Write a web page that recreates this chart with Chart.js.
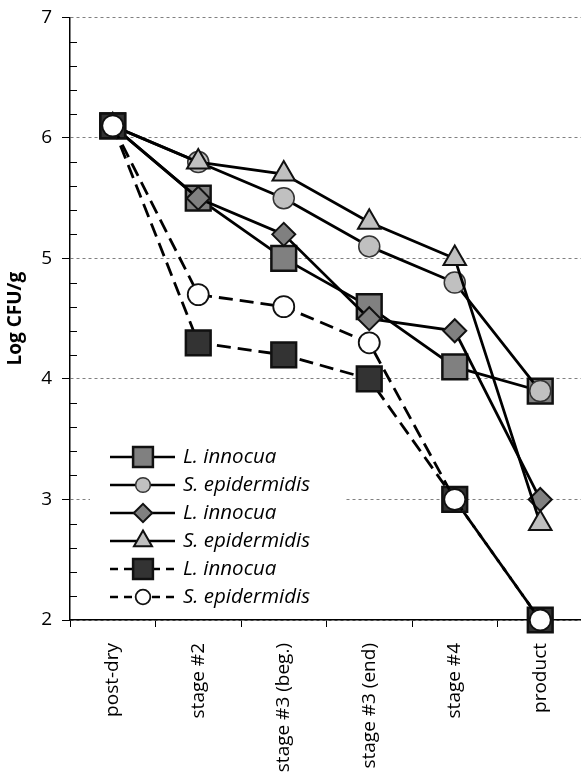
<!DOCTYPE html>
<html>
<head>
<meta charset="utf-8">
<script src="https://cdn.jsdelivr.net/npm/chart.js@4.4.0/dist/chart.umd.min.js"></script>
<style>
    html, body { margin: 0; padding: 0; background: #fff; overflow: hidden; }
    #wrap { width: 603px; height: 782px; margin-top: -4px; }
</style>
</head>
<body>
<div id="wrap"><canvas id="chart" width="603" height="782"></canvas></div>
<script>
// sampling stages along the line
var stages = ['post-dry', 'stage #2', 'stage #3 (beg.)', 'stage #3 (end)', 'stage #4', 'product'];
var seriesNames = ['L. innocua', 'S. epidermidis', 'L. innocua', 'S. epidermidis', 'L. innocua', 'S. epidermidis'];

// log counts per stage
var innocuaRun1 = [6.1, 5.5, 5.0, 4.6, 4.1, 3.9];
var epidermidisRun1 = [6.1, 5.8, 5.5, 5.1, 4.8, 3.9];
var innocuaRun2 = [6.1, 5.5, 5.2, 4.5, 4.4, 3.0];
var epidermidisRun2 = [6.1, 5.8, 5.7, 5.3, 5.0, 2.8];
var innocuaRun3 = [6.1, 4.3, 4.2, 4.0, 3.0, 2.0];
var epidermidisRun3 = [6.1, 4.7, 4.6, 4.3, 3.0, 2.0];

var yMin = 2, yMax = 7, yMinorStep = 0.2;

var FONT = '"Open Sans", "Noto Sans", sans-serif';

function series(i, data, style) {
    return Object.assign({
        label: seriesNames[i],
        data: data,
        borderColor: '#000',
        borderWidth: 2.8,
        pointBorderColor: '#111',
        tension: 0,
        fill: false,
        clip: false,
        order: 6 - i
    }, style);
}

var datasets = [
    series(0, innocuaRun1, { pointStyle: 'rect', pointRadius: 17.5, pointBackgroundColor: '#808080', pointBorderWidth: 2.5 }),
    series(1, epidermidisRun1, { pointStyle: 'circle', pointRadius: 10.5, pointBackgroundColor: '#c0c0c0', pointBorderColor: '#333', pointBorderWidth: 1.5 }),
    series(2, innocuaRun2, { pointStyle: 'rectRot', pointRadius: 11.5, pointBackgroundColor: '#808080', pointBorderWidth: 2 }),
    series(3, epidermidisRun2, { pointStyle: 'triangle', pointRadius: 13, pointBackgroundColor: '#c0c0c0', pointBorderWidth: 2 }),
    series(4, innocuaRun3, { pointStyle: 'rect', pointRadius: 17.5, pointBackgroundColor: '#333333', pointBorderWidth: 2.5, borderDash: [14, 7] }),
    series(5, epidermidisRun3, { pointStyle: 'circle', pointRadius: 10.5, pointBackgroundColor: '#ffffff', pointBorderWidth: 1.8, borderDash: [14, 7] })
];

// small inward ticks on the value axis
var minorTicks = {
    id: 'minorTicks',
    afterDraw: function(chart) {
        var ctx = chart.ctx, y = chart.scales.y, left = chart.chartArea.left;
        ctx.save();
        ctx.strokeStyle = '#000';
        ctx.lineWidth = 1;
        for (var v = yMin + yMinorStep; v < yMax - 0.01; v += yMinorStep) {
            if (Math.abs(v - Math.round(v)) < 0.01) continue;
            var py = Math.round(y.getPixelForValue(v)) + 0.5;
            ctx.beginPath();
            ctx.moveTo(left, py);
            ctx.lineTo(left + 7, py);
            ctx.stroke();
        }
        ctx.restore();
    }
};

// boxed legend inside the plot, lower left
var insideLegend = {
    id: 'insideLegend',
    afterDatasetsDraw: function(chart) {
        var ctx = chart.ctx;
        var x0 = 110, x1 = 175, mx = 143, tx = 183, top = 461, step = 28;
        ctx.save();
        ctx.fillStyle = '#fff';
        ctx.fillRect(90, top - 20, 255, step * 6 + 12);
        chart.data.datasets.forEach(function(ds, i) {
            var yy = top + i * step;
            ctx.strokeStyle = '#000';
            ctx.lineWidth = 2.5;
            ctx.setLineDash(ds.borderDash ? [8, 6] : []);
            ctx.beginPath();
            ctx.moveTo(x0, yy);
            ctx.lineTo(x1, yy);
            ctx.stroke();
            ctx.setLineDash([]);
            ctx.fillStyle = ds.pointBackgroundColor;
            ctx.strokeStyle = ds.pointBorderColor;
            ctx.lineWidth = ds.pointBorderWidth;
            Chart.helpers.drawPoint(ctx, {
                pointStyle: ds.pointStyle,
                radius: ds.pointRadius * (ds.pointStyle === 'circle' ? 0.7 : 0.8),
                rotation: 0,
                borderWidth: ds.pointBorderWidth
            }, mx, yy);
            ctx.fillStyle = '#000';
            ctx.font = 'italic 20.5px ' + FONT;
            ctx.textBaseline = 'middle';
            ctx.textAlign = 'left';
            ctx.fillText(ds.label, tx, yy);
        });
        ctx.restore();
    }
};

new Chart(document.getElementById('chart'), {
    type: 'line',
    data: { labels: stages, datasets: datasets },
    plugins: [minorTicks, insideLegend],
    options: {
        responsive: false,
        animation: false,
        devicePixelRatio: 1,
        layout: { padding: { left: 4, right: 4, top: 14, bottom: 0 } },
        plugins: {
            legend: { display: false },
            tooltip: { enabled: false }
        },
        scales: {
            x: {
                offset: true,
                afterFit: function(scale) {
                    scale.height = 158;
                },
                grid: { offset: true, drawOnChartArea: false, tickLength: 7, tickColor: '#000', tickWidth: 1 },
                border: { color: '#000', width: 1.5 },
                ticks: {
                    autoSkip: false,
                    minRotation: 90,
                    maxRotation: 90,
                    padding: 16,
                    color: '#000',
                    font: { family: FONT, size: 19 }
                }
            },
            y: {
                min: yMin,
                max: yMax,
                afterFit: function(scale) {
                    scale.width = 66;
                },
                grid: { color: '#808080', lineWidth: 1, tickLength: 8, tickColor: '#000', tickWidth: 1 },
                border: { color: '#000', width: 1.5, dash: [3, 3] },
                ticks: {
                    stepSize: 1,
                    padding: 10,
                    color: '#000',
                    font: { family: FONT, size: 19 }
                },
                title: {
                    display: true,
                    text: 'Log CFU/g',
                    color: '#000',
                    padding: { top: 0, bottom: 0 },
                    font: { family: FONT, size: 19, weight: 'bold' }
                }
            }
        }
    }
});
</script>
</body>
</html>
